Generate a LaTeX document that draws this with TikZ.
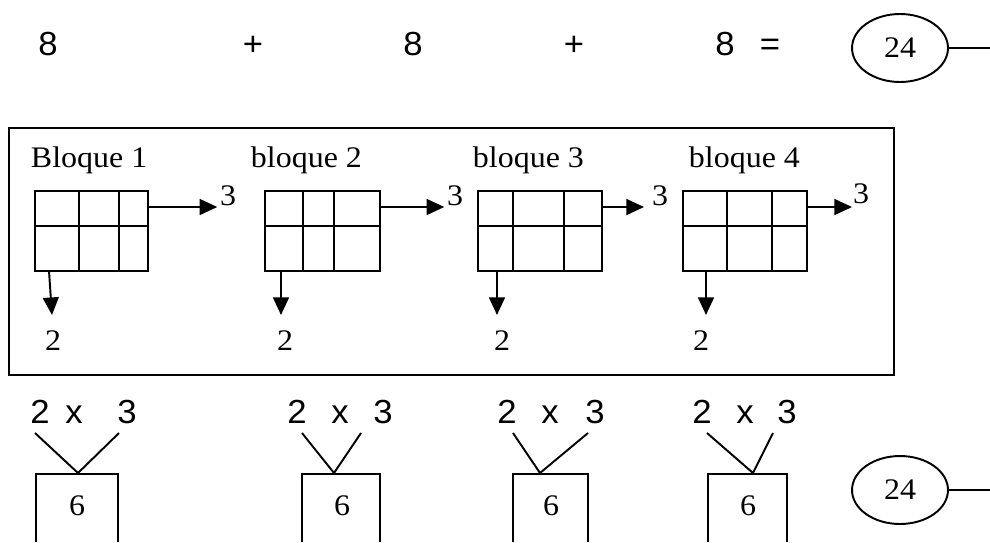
\documentclass[tikz,border=0pt]{standalone}
\usepackage{fontspec}
\setmainfont{Liberation Serif}[FakeStretch=1.07]
\newfontfamily\arial{Liberation Sans}[FakeStretch=1.04]
\usetikzlibrary{arrows.meta,shapes.geometric}

\begin{document}
\begin{tikzpicture}[x=0.02cm, y=-0.02cm, line width=1.1pt,
  every node/.style={inner sep=0pt, font=\fontsize{17}{20}\selectfont},
  sans/.style={font=\arial\fontsize{19}{22}\selectfont},
  total/.style={draw, ellipse, minimum width=1.92cm, minimum height=1.36cm},
  arr/.style={-{Triangle[length=10pt,width=9pt]}}]

\useasboundingbox (0,0) rectangle (990,542);

% Sum

\node[sans, anchor=base] (E1) at (48,55) {8};
\node[sans, anchor=base] (P1) at (253,55) {+};
\node[sans, anchor=base] (E2) at (413,55) {8};
\node[sans, anchor=base] (P2) at (574,55) {+};
\node[sans, anchor=base] (E3) at (725,55) {8};
\node[sans, anchor=base] (Q) at (770,55) {=};
\node[total] (S1) at (900,48) {24};
\coordinate (S1r) at (990,48);
\draw (S1) -- (S1r);

% Frame
\draw (9,128) rectangle (894,375);

% Bloque 1
\node[anchor=base west] (N1) at (30,167) {Bloque 1};
\draw (35,191) rectangle (148,271);
\draw (35,226) -- (148,226) (79,191) -- (79,271) (119,191) -- (119,271);
\node[anchor=base] (R1) at (228,205) {3};
\node[anchor=base] (D1) at (53,350) {2};
\coordinate (A1) at (148,207);
\coordinate (V1) at (49,271);
\coordinate (V1t) at (52,315);
\draw[arr, shorten >=1pt] (A1) -- (A1 -| R1.west);
\draw[arr] (V1) -- (V1t);

% bloque 2
\node[anchor=base west] (N2) at (250,167) {bloque 2};
\draw (265,191) rectangle (380,271);
\draw (265,226) -- (380,226) (303,191) -- (303,271) (334,191) -- (334,271);
\node[anchor=base] (R2) at (455,205) {3};
\node[anchor=base] (D2) at (285,350) {2};
\coordinate (A2) at (380,207);
\coordinate (V2) at (281,271);
\coordinate (V2t) at (281,315);
\draw[arr, shorten >=1pt] (A2) -- (A2 -| R2.west);
\draw[arr] (V2) -- (V2t);

% bloque 3
\node[anchor=base west] (N3) at (472,167) {bloque 3};
\draw (478,191) rectangle (602,271);
\draw (478,226) -- (602,226) (513,191) -- (513,271) (564,191) -- (564,271);
\node[anchor=base] (R3) at (660,205) {3};
\node[anchor=base] (D3) at (502,350) {2};
\coordinate (A3) at (602,207);
\coordinate (V3) at (497,271);
\coordinate (V3t) at (497,315);
\draw[arr, shorten >=4pt] (A3) -- (A3 -| R3.west);
\draw[arr] (V3) -- (V3t);

% bloque 4
\node[anchor=base west] (N4) at (688,167) {bloque 4};
\draw (683,191) rectangle (807,271);
\draw (683,226) -- (807,226) (727,191) -- (727,271) (772,191) -- (772,271);
\node[anchor=base] (R4) at (861,203) {3};
\node[anchor=base] (D4) at (701,350) {2};
\coordinate (A4) at (807,207);
\coordinate (V4) at (706,271);
\coordinate (V4t) at (706,315);
\draw[arr] (A4) -- (A4 -| R4.west);
\draw[arr] (V4) -- (V4t);

% Products

\node[sans, anchor=base] (F1a) at (40,423) {2};
\node[sans, anchor=base] (F1x) at (74,423) {x};
\node[sans, anchor=base] (F1b) at (127,423) {3};
\coordinate (L1a) at (35,433);
\coordinate (L1b) at (119,433);
\coordinate (C1) at (78,473);
\draw (L1a) -- (C1) -- (L1b);
\draw (36,542) -- (36,474) -- (118,474) -- (118,542);
\node[anchor=base] (K1) at (77,515) {6};

\node[sans, anchor=base] (F2a) at (297,423) {2};
\node[sans, anchor=base] (F2x) at (340,423) {x};
\node[sans, anchor=base] (F2b) at (383,423) {3};
\coordinate (L2a) at (302,433);
\coordinate (L2b) at (361,433);
\coordinate (C2) at (334,473);
\draw (L2a) -- (C2) -- (L2b);
\draw (302,542) -- (302,474) -- (380,474) -- (380,542);
\node[anchor=base] (K2) at (342,515) {6};

\node[sans, anchor=base] (F3a) at (507,423) {2};
\node[sans, anchor=base] (F3x) at (550,423) {x};
\node[sans, anchor=base] (F3b) at (595,423) {3};
\coordinate (L3a) at (513,433);
\coordinate (L3b) at (588,433);
\coordinate (C3) at (540,473);
\draw (L3a) -- (C3) -- (L3b);
\draw (513,542) -- (513,474) -- (588,474) -- (588,542);
\node[anchor=base] (K3) at (551,515) {6};

\node[sans, anchor=base] (F4a) at (702,423) {2};
\node[sans, anchor=base] (F4x) at (745,423) {x};
\node[sans, anchor=base] (F4b) at (787,423) {3};
\coordinate (L4a) at (707,433);
\coordinate (L4b) at (773,433);
\coordinate (C4) at (753,473);
\draw (L4a) -- (C4) -- (L4b);
\draw (708,542) -- (708,474) -- (787,474) -- (787,542);
\node[anchor=base] (K4) at (748,515) {6};

\node[total] (S2) at (900,490) {24};
\coordinate (S2r) at (990,490);
\draw (S2) -- (S2r);

\end{tikzpicture}
\end{document}
